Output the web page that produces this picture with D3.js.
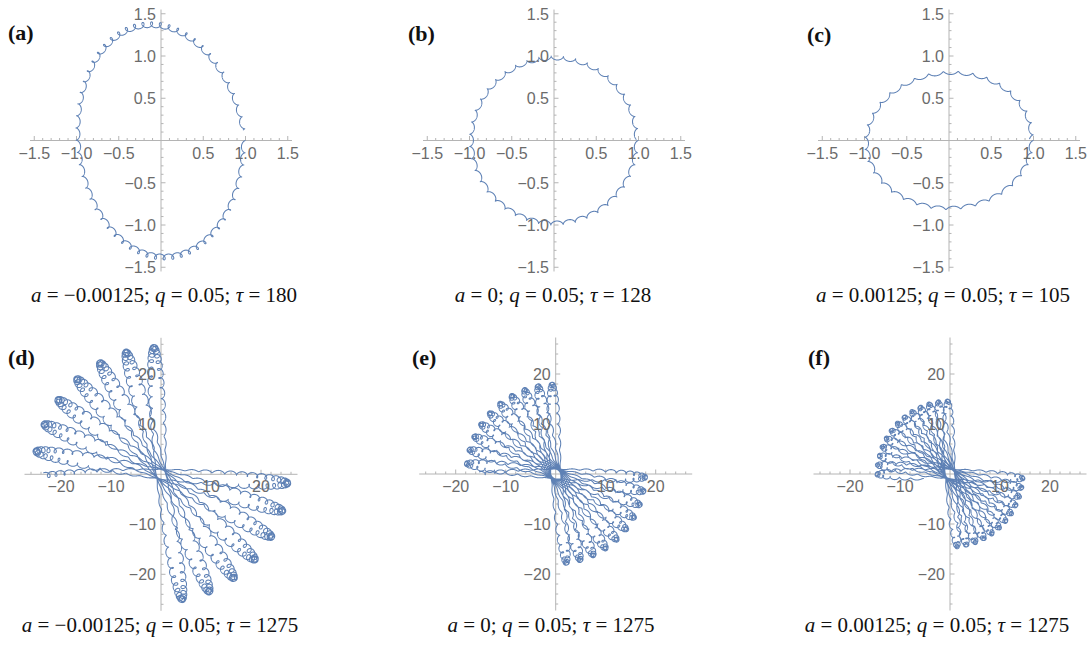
<!DOCTYPE html>
<html><head><meta charset="utf-8">
<script src="https://cdn.jsdelivr.net/npm/d3@7"></script>
<style>
body{margin:0;background:#fff}
text{white-space:pre}
</style></head>
<body><svg id="chart" width="1091" height="649"></svg>
<script>
// ---- data ----
const panelIds   = ["(a)", "(b)", "(c)", "(d)", "(e)", "(f)"];
const aValues    = [-0.00125, 0, 0.00125, -0.00125, 0, 0.00125];
const aLabels    = ["−0.00125", "0", "0.00125", "−0.00125", "0", "0.00125"];
const qValues    = [0.05, 0.05, 0.05, 0.05, 0.05, 0.05];
const qLabels    = ["0.05", "0.05", "0.05", "0.05", "0.05", "0.05"];
const tauValues  = [180, 128, 105, 1275, 1275, 1275];
// initial state (x, y, vx, vy) of each trajectory
const startX  = [1, 1, 1, 1, 1, 1];
const startY  = [0, 0, 0, 0, 0, 0];
const startVx = [0, 0, 0, 0, 0, 0];
const startVy = [0, 0, 0, 0.97, 0.97, 0.97];
// axis extents and ticks
const axisExtent     = [1.55, 1.55, 1.55, 27.3, 27.3, 27.3];
const topMajorTicks  = [-1.5, -1.0, -0.5, 0.5, 1.0, 1.5];
const topTickLabels  = ["−1.5", "−1.0", "−0.5", "0.5", "1.0", "1.5"];
const topMinorStep   = 0.1;
const botMajorTicks  = [-20, -10, 10, 20];
const botTickLabels  = ["−20", "−10", "10", "20"];
const botMinorStep   = 2;

// ---- layout ----
const layout = [
  {cx:161,   cy:140.5, k:84.5, lx:8,   ly:40,  capX:164, capY:302},
  {cx:554,   cy:140.5, k:84.5, lx:408, ly:41,  capX:553, capY:302},
  {cx:949,   cy:140.5, k:84.5, lx:807, ly:42,  capX:943, capY:302},
  {cx:161,   cy:474.3, k:5.0,  lx:8,   ly:365, capX:160, capY:632},
  {cx:555.7, cy:474,   k:5.0,  lx:412, ly:365, capX:551, capY:632},
  {cx:950,   cy:474,   k:5.0,  lx:808, ly:365, capX:937, capY:632}
];
const curveColor = "#5E81B5";
const axisColor = "#b4b4b4";
const tickTextColor = "#6b6b6b";

// equation of motion: rotating saddle (Mathieu-type) in the lab frame
function simulate(a, q, T, x0, y0, vx0, vy0, dt, every) {
  const acc = (t, x, y) => {
    const c = Math.cos(2 * t), s = Math.sin(2 * t);
    return [-a * x - 2 * q * (x * c + y * s), -a * y - 2 * q * (x * s - y * c)];
  };
  let x = x0, y = y0, vx = vx0, vy = vy0, t = 0;
  const pts = [[x, y]];
  const n = Math.round(T / dt);
  for (let i = 1; i <= n; i++) {
    const a1 = acc(t, x, y);
    const x2 = x + vx * dt / 2, y2 = y + vy * dt / 2;
    const vx2 = vx + a1[0] * dt / 2, vy2 = vy + a1[1] * dt / 2;
    const a2 = acc(t + dt / 2, x2, y2);
    const x3 = x + vx2 * dt / 2, y3 = y + vy2 * dt / 2;
    const vx3 = vx + a2[0] * dt / 2, vy3 = vy + a2[1] * dt / 2;
    const a3 = acc(t + dt / 2, x3, y3);
    const x4 = x + vx3 * dt, y4 = y + vy3 * dt;
    const vx4 = vx + a3[0] * dt, vy4 = vy + a3[1] * dt;
    const a4 = acc(t + dt, x4, y4);
    x += dt / 6 * (vx + 2 * vx2 + 2 * vx3 + vx4);
    y += dt / 6 * (vy + 2 * vy2 + 2 * vy3 + vy4);
    vx += dt / 6 * (a1[0] + 2 * a2[0] + 2 * a3[0] + a4[0]);
    vy += dt / 6 * (a1[1] + 2 * a2[1] + 2 * a3[1] + a4[1]);
    t += dt;
    if (i % every === 0 || i === n) pts.push([x, y]);
  }
  return pts;
}

const svg = d3.select("#chart");
svg.append("rect").attr("width", 1091).attr("height", 649).attr("fill", "#fff");

panelIds.forEach((id, i) => {
  const L = layout[i];
  const R = axisExtent[i];
  const top = i < 3;
  const xs = d3.scaleLinear().domain([-R, R]).range([L.cx - R * L.k, L.cx + R * L.k]);
  const ys = d3.scaleLinear().domain([-R, R]).range([L.cy + R * L.k, L.cy - R * L.k]);
  const g = svg.append("g");

  // axes lines
  g.append("line").attr("x1", xs(-R)).attr("x2", xs(R)).attr("y1", ys(0)).attr("y2", ys(0))
    .attr("stroke", axisColor).attr("stroke-width", 1);
  g.append("line").attr("x1", xs(0)).attr("x2", xs(0)).attr("y1", ys(-R)).attr("y2", ys(R))
    .attr("stroke", axisColor).attr("stroke-width", 1);

  const majors = top ? topMajorTicks : botMajorTicks;
  const labels = top ? topTickLabels : botTickLabels;
  const mstep = top ? topMinorStep : botMinorStep;
  const nMin = Math.floor(R / mstep);
  const minors = [];
  for (let j = -nMin; j <= nMin; j++) {
    const v = +(j * mstep).toFixed(6);
    if (v === 0) continue;
    if (majors.some(m => Math.abs(m - v) < 1e-9)) continue;
    minors.push(v);
  }
  majors.forEach(v => {
    g.append("line").attr("x1", xs(v)).attr("x2", xs(v)).attr("y1", ys(0)).attr("y2", ys(0) - 4.5)
      .attr("stroke", axisColor);
    g.append("line").attr("x1", xs(0)).attr("x2", xs(0) + 4.5).attr("y1", ys(v)).attr("y2", ys(v))
      .attr("stroke", axisColor);
  });
  minors.forEach(v => {
    g.append("line").attr("x1", xs(v)).attr("x2", xs(v)).attr("y1", ys(0)).attr("y2", ys(0) - 2.5)
      .attr("stroke", axisColor);
    g.append("line").attr("x1", xs(0)).attr("x2", xs(0) + 2.5).attr("y1", ys(v)).attr("y2", ys(v))
      .attr("stroke", axisColor);
  });

  // trajectory
  const pts = simulate(aValues[i], qValues[i], tauValues[i], startX[i], startY[i], startVx[i], startVy[i],
                       0.01, top ? 3 : 4);
  const line = d3.line().x(d => xs(d[0])).y(d => ys(d[1]));
  g.append("path").attr("d", line(pts)).attr("fill", "none")
    .attr("stroke", curveColor).attr("stroke-width", 1.05).attr("stroke-linejoin", "round");

  // tick labels
  majors.forEach((v, j) => {
    g.append("text").attr("x", xs(v)).attr("y", ys(0) + 18).attr("text-anchor", "middle")
      .attr("font-family", "Liberation Sans, Arial, sans-serif").attr("font-size", 16)
      .attr("fill", tickTextColor).text(labels[j]);
    g.append("text").attr("x", xs(0) - 5).attr("y", ys(v) + 6).attr("text-anchor", "end")
      .attr("font-family", "Liberation Sans, Arial, sans-serif").attr("font-size", 16)
      .attr("fill", tickTextColor).text(labels[j]);
  });

  // panel id
  g.append("text").attr("x", L.lx).attr("y", L.ly)
    .attr("font-family", "Liberation Serif, serif").attr("font-weight", "bold").attr("font-size", 22)
    .attr("fill", "#111").text(id);

  // caption
  const cap = g.append("text").attr("x", L.capX).attr("y", L.capY).attr("text-anchor", "middle")
    .attr("font-family", "Liberation Serif, serif").attr("font-size", 21).attr("fill", "#111");
  cap.append("tspan").attr("font-style", "italic").text("a");
  cap.append("tspan").text(" = " + aLabels[i] + "; ");
  cap.append("tspan").attr("font-style", "italic").text("q");
  cap.append("tspan").text(" = " + qLabels[i] + "; ");
  cap.append("tspan").attr("font-style", "italic").text("τ");
  cap.append("tspan").text(" = " + tauValues[i]);
});
</script>
</body></html>
